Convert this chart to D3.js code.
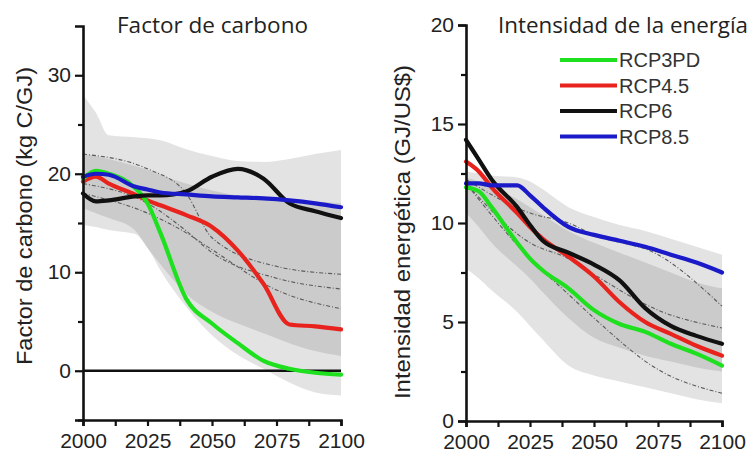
<!DOCTYPE html>
<html>
<head>
<meta charset="utf-8">
<script src="https://cdn.jsdelivr.net/npm/d3@7"></script>
<style>
  html, body { margin: 0; padding: 0; background: #fff; }
  svg { display: block; }
  .tick text { font-family: "Liberation Sans", Arial, sans-serif; fill: #222; }
</style>
</head>
<body>
<svg id="chart" width="750" height="456"></svg>
<script>
// ---- shared time grid ----
const years = [2000, 2005, 2010, 2020, 2025, 2030, 2040, 2050, 2060, 2070, 2080, 2090, 2100];
const dotYears = [2000, 2025, 2040, 2050, 2075, 2100];

const scenarios = ["RCP3PD", "RCP4.5", "RCP6", "RCP8.5"];
const scenarioColors = ["#1fe01f", "#e8231d", "#111111", "#1a1ac8"];

// ---- carbon factor (kg C/GJ) ----
const carbonRCP3PD = [19.5, 20.3, 20.0, 18.6, 17.0, 14.0, 7.3, 4.8, 2.8, 1.0, 0.2, -0.2, -0.4];
const carbonRCP45  = [19.2, 19.7, 19.0, 17.9, 17.3, 16.8, 15.8, 14.6, 12.2, 8.8, 4.7, 4.5, 4.2];
const carbonRCP6   = [18.0, 17.2, 17.3, 17.7, 17.8, 17.8, 18.2, 19.7, 20.5, 19.5, 17.0, 16.2, 15.5];
const carbonRCP85  = [19.7, 20.0, 19.9, 18.7, 18.4, 18.1, 17.9, 17.7, 17.6, 17.5, 17.3, 17.0, 16.6];
const carbonOuterHigh = [28.0, 26.2, 23.9, 23.7, 23.6, 23.4, 22.5, 21.8, 21.3, 21.2, 21.5, 22.0, 22.4];
const carbonOuterLow  = [14.8, 14.6, 14.3, 13.9, 12.5, 10.2, 6.5, 3.6, 1.6, 0.2, -1.2, -2.2, -2.5];
const carbonInnerHigh = [22.0, 21.8, 21.5, 20.8, 20.4, 19.9, 19.0, 18.3, 17.8, 17.5, 17.3, 17.2, 17.0];
const carbonInnerLow  = [16.5, 16.0, 15.5, 14.3, 12.5, 10.8, 7.8, 6.0, 4.8, 3.8, 2.8, 2.0, 1.5];
const carbonOtherA = [22.0, 20.5, 18.0, 13.5, 10.6, 9.8];
const carbonOtherB = [19.0, 17.0, 14.2, 12.0, 9.4, 8.3];
const carbonOtherC = [18.0, 16.0, 14.0, 12.3, 8.2, 6.3];

// ---- energy intensity (GJ/US$) ----
const energyRCP3PD = [11.8, 11.6, 10.8, 9.0, 8.2, 7.6, 6.7, 5.6, 4.9, 4.5, 3.9, 3.4, 2.8];
const energyRCP45  = [13.1, 12.6, 11.8, 10.5, 9.8, 9.2, 8.3, 7.3, 6.0, 5.0, 4.4, 3.8, 3.3];
const energyRCP6   = [14.2, 13.2, 12.2, 10.8, 9.9, 9.1, 8.5, 7.9, 7.1, 5.7, 4.8, 4.3, 3.9];
const energyRCP85  = [12.0, 12.0, 11.9, 11.9, 11.4, 10.8, 9.8, 9.4, 9.1, 8.8, 8.4, 8.0, 7.5];
const energyOuterHigh = [12.6, 12.5, 12.4, 12.3, 12.1, 11.7, 10.8, 10.3, 9.9, 9.6, 9.2, 8.8, 8.4];
const energyOuterLow  = [7.7, 7.2, 6.6, 5.5, 4.8, 4.1, 2.8, 2.3, 2.0, 1.7, 1.4, 1.1, 0.9];
const energyInnerHigh = [12.3, 12.1, 11.8, 11.2, 10.8, 10.4, 9.6, 9.0, 8.5, 8.0, 7.5, 7.0, 6.7];
const energyInnerLow  = [10.5, 9.8, 9.0, 7.8, 7.2, 6.5, 5.2, 4.2, 3.7, 3.3, 3.0, 2.7, 2.5];
const energyOtherA = [12.0, 8.2, 6.4, 5.2, 2.6, 1.4];
const energyOtherB = [12.0, 9.0, 8.2, 7.4, 5.6, 4.7];
const energyOtherC = [12.2, 10.5, 10.0, 9.4, 8.4, 5.8];

// ---- axis ticks ----
const xTickLabels = [2000, 2025, 2050, 2075, 2100];
const xMinorTicks = [2012.5, 2037.5, 2062.5, 2087.5];
const carbonTickLabels = [0, 10, 20, 30];
const carbonMinorTicks = [-5, 5, 15, 25];
const energyTickLabels = [0, 5, 10, 15, 20];
const energyMinorTicks = [2.5, 7.5, 12.5, 17.5];

const svg = d3.select("#chart");
svg.append("rect").attr("width", 750).attr("height", 456).attr("fill", "#fff");

function zipPts(xs, ys) { return xs.map((x, i) => [x, ys[i]]); }

function drawPanel(p) {
  const x = d3.scaleLinear().domain([2000, 2100]).range(p.xRange);
  const y = d3.scaleLinear().domain(p.yDomain).range(p.yRange);
  const g = svg.append("g");

  const area = d3.area()
    .x(d => x(d[0])).y0(d => y(d[1])).y1(d => y(d[2]))
    .curve(d3.curveMonotoneX);
  const band = (hi, lo) => years.map((yr, i) => [yr, lo[i], hi[i]]);

  g.append("path").datum(band(p.outerHigh, p.outerLow))
    .attr("d", area).attr("fill", "#e3e3e3");
  g.append("path").datum(band(p.innerHigh, p.innerLow))
    .attr("d", area).attr("fill", "#cbcbcb");

  const line = d3.line().x(d => x(d[0])).y(d => y(d[1])).curve(d3.curveMonotoneX);

  // other scenarios, thin dash-dot
  p.others.forEach(vals => {
    g.append("path").datum(zipPts(dotYears, vals))
      .attr("d", line).attr("fill", "none")
      .attr("stroke", "#5a5a5a").attr("stroke-width", 1.1)
      .attr("stroke-dasharray", "4,2,1,2");
  });

  if (p.zeroLine) {
    g.append("line")
      .attr("x1", x(2000)).attr("x2", x(2100))
      .attr("y1", y(0)).attr("y2", y(0))
      .attr("stroke", "#111").attr("stroke-width", 2.6);
  }

  // RCP pathways; draw order keeps blue & black on top
  const order = [1, 0, 2, 3];
  order.forEach(i => {
    g.append("path").datum(zipPts(years, p.series[i]))
      .attr("d", line).attr("fill", "none")
      .attr("stroke", scenarioColors[i]).attr("stroke-width", 4.2)
      .attr("stroke-linejoin", "round").attr("stroke-linecap", "round");
  });

  // axes
  const yAxis = d3.axisLeft(y).tickValues(p.yTicks).tickSize(8).tickPadding(4).tickFormat(d3.format("d"));
  const yMinor = d3.axisLeft(y).tickValues(p.yMinor).tickSize(5).tickFormat("");
  const xAxis = d3.axisBottom(x).tickValues(xTickLabels).tickSize(6).tickPadding(7).tickFormat(d3.format("d"));
  const xMinor = d3.axisBottom(x).tickValues(xMinorTicks).tickSize(6).tickFormat("");

  const xa = g.append("g").attr("transform", `translate(0,${p.yRange[0]})`).call(xAxis);
  const xm = g.append("g").attr("transform", `translate(0,${p.yRange[0]})`).call(xMinor);
  const ya = g.append("g").attr("transform", `translate(${p.xRange[0]},0)`).call(yAxis);
  const ym = g.append("g").attr("transform", `translate(${p.xRange[0]},0)`).call(yMinor);

  [xa, xm, ya, ym].forEach(a => {
    a.select(".domain").attr("stroke", "#111").attr("stroke-width", 2.6);
    a.selectAll(".tick line").attr("stroke", "#111").attr("stroke-width", 2.2);
  });
  xm.select(".domain").remove();
  ym.select(".domain").remove();
  [xa, ya].forEach(a => a.selectAll(".tick text").attr("font-size", 21).attr("fill", "#222"));

  // y title
  svg.append("text")
    .attr("transform", `translate(${p.yTitleX},${p.yTitleY}) rotate(-90)`)
    .attr("text-anchor", "middle")
    .attr("font-family", "Liberation Sans, Arial, sans-serif")
    .attr("font-size", 22).attr("fill", "#222")
    .attr("textLength", p.yTitleLen).attr("lengthAdjust", "spacingAndGlyphs")
    .text(p.yTitle);

  // panel title
  svg.append("text")
    .attr("x", p.titleX).attr("y", 33)
    .attr("font-family", "Open Sans, sans-serif")
    .attr("font-size", 21).attr("fill", "#222")
    .attr("textLength", p.titleLen).attr("lengthAdjust", "spacingAndGlyphs")
    .text(p.title);

  return { x, y };
}

drawPanel({
  xRange: [83, 341], yDomain: [-5, 35], yRange: [420, 26],
  series: [carbonRCP3PD, carbonRCP45, carbonRCP6, carbonRCP85],
  outerHigh: carbonOuterHigh, outerLow: carbonOuterLow,
  innerHigh: carbonInnerHigh, innerLow: carbonInnerLow,
  others: [carbonOtherA, carbonOtherB, carbonOtherC],
  zeroLine: true,
  yTicks: carbonTickLabels, yMinor: carbonMinorTicks,
  yTitle: "Factor de carbono (kg C/GJ)", yTitleX: 32, yTitleY: 216, yTitleLen: 298,
  title: "Factor de carbono", titleX: 117, titleLen: 191
});

drawPanel({
  xRange: [466, 722], yDomain: [0, 20], yRange: [421, 25],
  series: [energyRCP3PD, energyRCP45, energyRCP6, energyRCP85],
  outerHigh: energyOuterHigh, outerLow: energyOuterLow,
  innerHigh: energyInnerHigh, innerLow: energyInnerLow,
  others: [energyOtherA, energyOtherB, energyOtherC],
  zeroLine: false,
  yTicks: energyTickLabels, yMinor: energyMinorTicks,
  yTitle: "Intensidad energética (GJ/US$)", yTitleX: 410, yTitleY: 232, yTitleLen: 334,
  title: "Intensidad de la energía", titleX: 498, titleLen: 250
});

// legend
const legend = svg.append("g");
scenarios.forEach((name, i) => {
  const ly = 60 + i * 25.5;
  legend.append("line")
    .attr("x1", 560).attr("x2", 617).attr("y1", ly).attr("y2", ly)
    .attr("stroke", scenarioColors[i]).attr("stroke-width", 4);
  legend.append("text")
    .attr("x", 619).attr("y", ly + 7)
    .attr("font-family", "Liberation Sans, Arial, sans-serif")
    .attr("font-size", 20).attr("fill", "#333")
    .text(name);
});
</script>
</body>
</html>
